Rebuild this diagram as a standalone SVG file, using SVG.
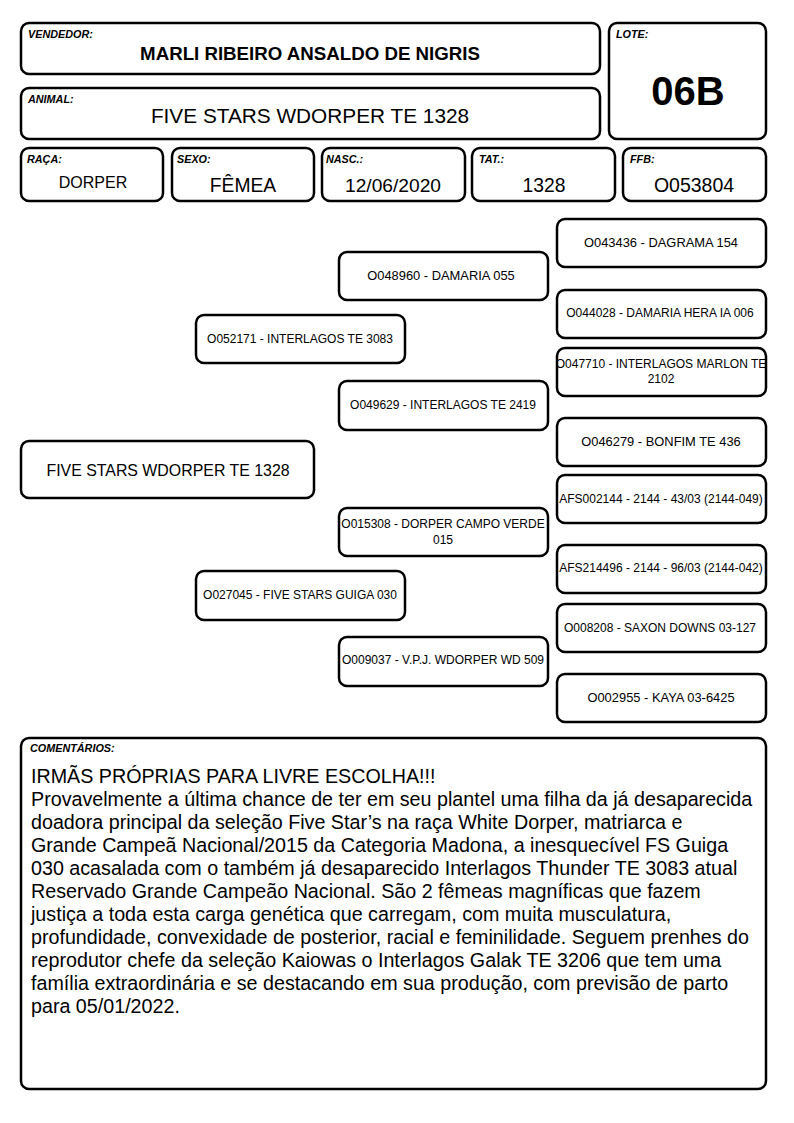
<svg xmlns="http://www.w3.org/2000/svg" width="794" height="1123" viewBox="0 0 794 1123">
<style>
.b{fill:#fff;stroke:#000;stroke-width:2.5}
.lab{font-family:"Liberation Sans",Arial,sans-serif;font-size:10.8px;font-weight:bold;font-style:italic;fill:#000}
.t{font-family:"Liberation Sans",Arial,sans-serif;fill:#000;text-anchor:middle}
.p{font-family:"Liberation Sans",Arial,sans-serif;font-size:12px;fill:#000;text-anchor:middle}
.q{font-family:"Liberation Sans",Arial,sans-serif;font-size:12.9px;fill:#000;text-anchor:middle}
.c{font-family:"Liberation Sans",Arial,sans-serif;font-size:19.7px;fill:#000}
</style>
<rect width="794" height="1123" fill="#fff"/>
<g id="vendedor"><rect class="b" x="21" y="23" width="579" height="51" rx="8"/><text class="lab" x="28" y="38">VENDEDOR:</text><text class="t" x="310" y="60" font-size="18.7" font-weight="bold">MARLI RIBEIRO ANSALDO DE NIGRIS</text></g>
<g id="lote"><rect class="b" x="609" y="23" width="157" height="116" rx="8"/><text class="lab" x="616" y="38">LOTE:</text><text class="t" x="688" y="105" font-size="40" font-weight="bold">06B</text></g>
<g id="animal"><rect class="b" x="21" y="88" width="579" height="51" rx="8"/><text class="lab" x="28" y="103">ANIMAL:</text><text class="t" x="310" y="123" font-size="20.8">FIVE STARS WDORPER TE 1328</text></g>
<g id="raca"><rect class="b" x="21" y="148" width="142" height="53" rx="8"/><text class="lab" x="27" y="163">RAÇA:</text><text class="t" x="93" y="188" font-size="16">DORPER</text></g>
<g id="sexo"><rect class="b" x="172" y="148" width="142" height="53" rx="8"/><text class="lab" x="177" y="163">SEXO:</text><text class="t" x="243" y="192" font-size="19.3">FÊMEA</text></g>
<g id="nasc"><rect class="b" x="322" y="148" width="143" height="53" rx="8"/><text class="lab" x="326" y="163">NASC.:</text><text class="t" x="393" y="192" font-size="19.2">12/06/2020</text></g>
<g id="tat"><rect class="b" x="472" y="148" width="143" height="53" rx="8"/><text class="lab" x="479" y="163">TAT.:</text><text class="t" x="544" y="192" font-size="19.3">1328</text></g>
<g id="ffb"><rect class="b" x="623" y="148" width="143" height="53" rx="8"/><text class="lab" x="630" y="163">FFB:</text><text class="t" x="694" y="192" font-size="19.5">O053804</text></g>
<g id="connectors"></g>
<g id="n-main"><rect class="b" x="21" y="441" width="293" height="57" rx="8"/><text class="t" x="168" y="476" font-size="15.9">FIVE STARS WDORPER TE 1328</text></g>
<g id="n-o052171"><rect class="b" x="196" y="315" width="209" height="48" rx="8"/><text class="p" x="300" y="343">O052171 - INTERLAGOS TE 3083</text></g>
<g id="n-o027045"><rect class="b" x="196" y="571" width="209" height="49" rx="8"/><text class="p" x="300" y="599">O027045 - FIVE STARS GUIGA 030</text></g>
<g id="n-o048960"><rect class="b" x="339" y="252" width="209" height="48" rx="8"/><text class="q" x="441" y="280">O048960 - DAMARIA 055</text></g>
<g id="n-o049629"><rect class="b" x="339" y="381" width="209" height="49" rx="8"/><text class="p" x="443" y="409">O049629 - INTERLAGOS TE 2419</text></g>
<g id="n-o015308"><rect class="b" x="339" y="508" width="209" height="48" rx="8"/><text class="p" x="443" y="528">O015308 - DORPER CAMPO VERDE</text><text class="p" x="443" y="544">015</text></g>
<g id="n-o009037"><rect class="b" x="339" y="637" width="209" height="49" rx="8"/><text class="p" x="443" y="664">O009037 - V.P.J. WDORPER WD 509</text></g>
<g id="n-o043436"><rect class="b" x="557" y="219" width="209" height="48" rx="8"/><text class="q" x="661" y="247">O043436 - DAGRAMA 154</text></g>
<g id="n-o044028"><rect class="b" x="557" y="290" width="209" height="48" rx="8"/><text class="p" x="660" y="317">O044028 - DAMARIA HERA IA 006</text></g>
<g id="n-o047710"><rect class="b" x="557" y="348" width="209" height="48" rx="8"/><text class="p" x="661" y="368">O047710 - INTERLAGOS MARLON TE</text><text class="p" x="661" y="383">2102</text></g>
<g id="n-o046279"><rect class="b" x="557" y="418" width="209" height="48" rx="8"/><text class="q" x="661" y="446">O046279 - BONFIM TE 436</text></g>
<g id="n-afs002144"><rect class="b" x="557" y="475" width="209" height="48" rx="8"/><text class="p" x="661" y="503">AFS002144 - 2144 - 43/03 (2144-049)</text></g>
<g id="n-afs214496"><rect class="b" x="557" y="545" width="209" height="48" rx="8"/><text class="p" x="661" y="572">AFS214496 - 2144 - 96/03 (2144-042)</text></g>
<g id="n-o008208"><rect class="b" x="557" y="604" width="209" height="48" rx="8"/><text class="p" x="660" y="632">O008208 - SAXON DOWNS 03-127</text></g>
<g id="n-o002955"><rect class="b" x="557" y="674" width="209" height="48" rx="8"/><text class="q" x="661" y="702">O002955 - KAYA 03-6425</text></g>
<g id="comentarios"><rect class="b" x="21" y="738" width="745" height="351" rx="8"/><text class="lab" x="30" y="752">COMENTÁRIOS:</text>
<text class="c" x="31" y="783">IRMÃS PRÓPRIAS PARA LIVRE ESCOLHA!!!</text>
<text class="c" x="31" y="806">Provavelmente a última chance de ter em seu plantel uma filha da já desaparecida</text>
<text class="c" x="31" y="829">doadora principal da seleção Five Star’s na raça White Dorper, matriarca e</text>
<text class="c" x="31" y="852">Grande Campeã Nacional/2015 da Categoria Madona, a inesquecível FS Guiga</text>
<text class="c" x="31" y="875">030 acasalada com o também já desaparecido Interlagos Thunder TE 3083 atual</text>
<text class="c" x="31" y="898">Reservado Grande Campeão Nacional. São 2 fêmeas magníficas que fazem</text>
<text class="c" x="31" y="921">justiça a toda esta carga genética que carregam, com muita musculatura,</text>
<text class="c" x="31" y="944">profundidade, convexidade de posterior, racial e feminilidade. Seguem prenhes do</text>
<text class="c" x="31" y="967">reprodutor chefe da seleção Kaiowas o Interlagos Galak TE 3206 que tem uma</text>
<text class="c" x="31" y="990">família extraordinária e se destacando em sua produção, com previsão de parto</text>
<text class="c" x="31" y="1013">para 05/01/2022.</text>
</g>
</svg>
